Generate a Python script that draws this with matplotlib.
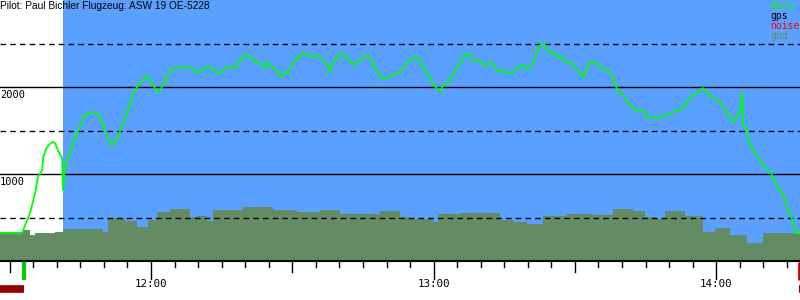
import numpy as np
import matplotlib
matplotlib.use("Agg")
import matplotlib.pyplot as plt
import matplotlib.transforms as mtransforms

# ---- data (time in minutes after midnight, altitude in m) ----
title = "Pilot: Paul Bichler Flugzeug: ASW 19 OE-5228"

baro_t = [687.9, 692.6, 694.3, 695.4, 696.0, 696.9, 697.1, 697.9, 699.0, 699.6,
          700.2, 701.1, 701.3, 701.7, 702.4, 703.2, 703.9, 704.9, 706.0, 707.5,
          708.7, 709.6, 710.7, 711.7, 712.8, 713.8, 715.1, 716.6, 717.7, 719.2,
          720.2, 721.3, 721.9, 723.0, 724.0, 725.1, 727.6, 728.7, 729.8, 730.8,
          732.1, 733.2, 734.0, 735.1, 735.7, 736.4, 737.8, 738.5, 739.3, 740.4,
          741.5, 742.1, 743.2, 744.2, 744.6, 745.7, 746.8, 747.4, 748.5, 749.1,
          750.2, 751.2, 752.3, 753.3, 754.2, 755.5, 756.5, 757.4, 758.0, 758.7,
          759.5, 760.1, 761.2, 762.3, 762.9, 764.0, 765.0, 766.1, 766.9, 767.6,
          768.6, 769.3, 770.3, 771.4, 772.9, 774.4, 775.4, 776.1, 777.1, 778.2,
          779.3, 779.9, 780.7, 781.4, 782.0, 782.9, 783.9, 785.0, 785.4, 786.3,
          787.3, 788.2, 789.2, 790.3, 790.9, 792.0, 792.6, 793.7, 794.8, 795.8,
          796.9, 798.0, 799.0, 800.1, 800.9, 801.6, 802.2, 803.0, 803.7, 804.3,
          805.4, 806.4, 807.3, 807.9, 809.0, 810.1, 811.1, 811.8, 812.6, 813.2,
          814.3, 815.4, 816.9, 817.9, 818.6, 819.2, 820.3, 821.3, 822.4, 823.4,
          824.5, 825.6, 826.6, 828.1, 829.6, 830.9, 832.4, 833.4, 834.5, 836.0,
          837.2, 838.3, 839.4, 840.9, 841.9, 843.0, 843.6, 844.5, 845.1, 845.5,
          845.7, 846.6, 846.8, 847.9, 848.9, 850.0, 851.5, 852.1, 853.0, 854.0,
          854.7, 855.3, 856.2, 856.8, 857.8]
baro_alt = [322, 322, 552, 782, 966, 1046, 1195, 1310, 1368, 1356,
            1276, 1184, 816, 1080, 1195, 1310, 1425, 1540, 1678, 1713,
            1701, 1598, 1425, 1322, 1414, 1540, 1736, 1966, 2046, 2126,
            2046, 1942, 1966, 2057, 2195, 2218, 2230, 2218, 2161, 2195,
            2230, 2218, 2161, 2172, 2218, 2230, 2218, 2276, 2333, 2368,
            2333, 2287, 2276, 2218, 2287, 2230, 2195, 2115, 2161, 2161,
            2276, 2333, 2391, 2368, 2345, 2368, 2310, 2253, 2172, 2287,
            2333, 2391, 2368, 2287, 2253, 2287, 2345, 2356, 2310, 2218,
            2138, 2080, 2115, 2138, 2172, 2276, 2333, 2345, 2310, 2172,
            2115, 2023, 1988, 1942, 2023, 2046, 2115, 2230, 2253, 2345,
            2391, 2310, 2310, 2287, 2241, 2287, 2253, 2172, 2195, 2161,
            2172, 2230, 2253, 2195, 2253, 2345, 2448, 2506, 2483, 2402,
            2402, 2345, 2345, 2287, 2287, 2218, 2161, 2115, 2230, 2276,
            2287, 2230, 2195, 2138, 2023, 1942, 1908, 1816, 1759, 1713,
            1736, 1644, 1655, 1644, 1678, 1713, 1736, 1793, 1874, 1942,
            1988, 1931, 1874, 1828, 1736, 1644, 1598, 1655, 1736, 1931,
            1563, 1506, 1391, 1276, 1184, 1103, 1023, 966, 851, 782,
            701, 586, 471, 322, 322]

gnd_t = [687.9, 692.8, 694.3, 695.4, 699.6, 701.3, 709.8, 710.9, 714.5, 717.0,
         719.4, 721.3, 724.0, 728.3, 729.8, 731.9, 733.2, 739.5, 745.9, 751.0,
         755.9, 760.1, 768.6, 772.9, 775.0, 779.9, 781.0, 785.6, 794.1, 796.9,
         799.9, 803.3, 808.4, 813.9, 818.1, 822.4, 824.9, 827.5, 829.2, 833.4,
         837.2, 839.8, 843.0, 846.6, 850.0, 857.8]
gnd_alt = [333, 356, 299, 322, 333, 368, 333, 494, 460, 391,
           471, 563, 598, 506, 517, 460, 586, 621, 586, 563,
           586, 540, 575, 506, 483, 448, 540, 552, 471, 448,
           425, 517, 540, 529, 598, 575, 506, 483, 575, 517,
           333, 379, 299, 207, 322, 322]

t_start, t_end = 687.93, 857.8
task_start = 701.3       # blue band start
takeoff = 693.0
landing = 857.6
hours = [720, 780, 840]
hour_labels = ["12:00", "13:00", "14:00"]
legend_names = ["baro", "gps", "noise", "gnd"]
legend_colors = ["#00ff00", "#000000", "#ff0000", "#648c64"]

BLUE = "#5aa0ff"
GND = "#648c64"

fig = plt.figure(figsize=(8, 3), dpi=100)
ax = fig.add_axes([0, 39 / 300, 1, 261 / 300])
ax.set_xlim(t_start, t_end)
ax.set_ylim(0, 3000)

ax.axvspan(task_start, t_end, color=BLUE, zorder=0, lw=0)
ax.fill_between(gnd_t, gnd_alt, step="post", color=GND, lw=0, zorder=1)

for v in [500, 1500, 2500]:
    ax.axhline(v, color="black", lw=1, ls=(0, (4, 3)), zorder=2)
for v in [1000, 2000]:
    ax.axhline(v, color="black", lw=1, zorder=2)
    ax.text(t_start, v - 40, str(v), ha="left", va="top",
            family="DejaVu Sans Mono", fontsize=7.5, zorder=3)

ax.plot(baro_t, baro_alt, color="#00ff00", lw=1.3, zorder=4)

for s in ["top", "left", "right"]:
    ax.spines[s].set_visible(False)
ax.spines["bottom"].set_linewidth(1.5)
ax.set_xticks([])
ax.set_yticks([])

# time ticks every 5 min below axis
trans = mtransforms.blended_transform_factory(ax.transData, ax.transAxes)
px = 1 / 261
for m in range(690, 860, 5):
    if m % 60 == 0:
        ln = 18
    elif m % 30 == 0:
        ln = 11
    else:
        ln = 6
    ax.plot([m, m], [0, -ln * px], color="black", lw=1, transform=trans, clip_on=False)
for h, lab in zip(hours, hour_labels):
    ax.text(h, -23 * px, lab, ha="center", va="center", transform=trans,
            family="DejaVu Sans Mono", fontsize=7.8)

# takeoff / landing markers
ax.plot([takeoff, takeoff], [-1 * px, -19 * px], color="#00cc00", lw=3,
        transform=trans, clip_on=False, solid_capstyle="butt")
ax.plot([t_start, takeoff], [-27.5 * px, -27.5 * px], color="#990000", lw=5.5,
        transform=trans, clip_on=False, solid_capstyle="butt")
ax.plot([landing, landing], [-1 * px, -19 * px], color="#cc0000", lw=2,
        transform=trans, clip_on=False, solid_capstyle="butt")
ax.plot([landing, t_end], [-27.5 * px, -27.5 * px], color="#990000", lw=5.5,
        transform=trans, clip_on=False, solid_capstyle="butt")

ax.text(t_start, 1 - 1 * px, title, ha="left", va="top", family="Liberation Sans",
        fontsize=7.3, zorder=5, transform=trans)
for i, (name, c) in enumerate(zip(legend_names, legend_colors)):
    ax.text(0.9625, 1 - (6 + 10 * i) * px, name, color=c, ha="left", va="center",
            transform=ax.transAxes, family="DejaVu Sans Mono", fontsize=7, zorder=5)

plt.savefig("out.png", dpi=100)
